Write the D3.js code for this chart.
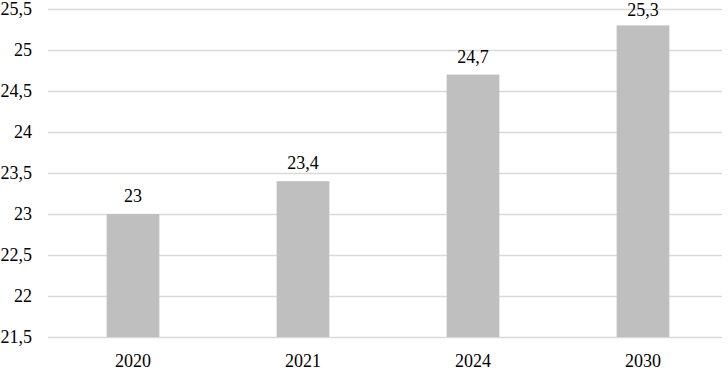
<!DOCTYPE html>
<html>
<head>
<meta charset="utf-8">
<script src="https://cdn.jsdelivr.net/npm/d3@7"></script>
<style>
  body { margin: 0; background: #fff; }
</style>
</head>
<body>
<svg id="chart" width="728" height="372"></svg>
<script>
const categories = ['2020', '2021', '2024', '2030'];
const values = [23, 23.4, 24.7, 25.3];
const yTicks = [21.5, 22, 22.5, 23, 23.5, 24, 24.5, 25, 25.5];

const svg = d3.select('#chart')
  .attr('font-family', "'Liberation Serif', 'Times New Roman', serif")
  .attr('font-size', 18);
const margin = { top: 9, right: 0, bottom: 35, left: 48 };
const width = 728, height = 372;
const fmt = (v) => String(v).replace('.', ',');

const x = d3.scaleBand()
  .domain(categories)
  .range([margin.left, width - margin.right])
  .padding(0);

const y = d3.scaleLinear()
  .domain([21.5, 25.5])
  .range([height - margin.bottom, margin.top]);

// gridlines
svg.append('g')
  .selectAll('line')
  .data(yTicks)
  .enter()
  .append('line')
  .attr('x1', margin.left)
  .attr('x2', width - margin.right - 6)
  .attr('y1', (d) => Math.round(y(d)) + 0.5)
  .attr('y2', (d) => Math.round(y(d)) + 0.5)
  .attr('stroke', '#d9d9d9')
  .attr('stroke-width', 1.5);

// y tick labels
svg.append('g')
  .selectAll('text')
  .data(yTicks)
  .enter()
  .append('text')
  .attr('x', 32)
  .attr('y', (d) => y(d))
  .attr('dy', '0.33em')
  .attr('text-anchor', 'end')
  .text(fmt);

// bars
const barW = x.bandwidth() * 0.31;
svg.append('g')
  .selectAll('rect')
  .data(values)
  .enter()
  .append('rect')
  .attr('x', (d, i) => x(categories[i]) + (x.bandwidth() - barW) / 2)
  .attr('y', (d) => y(d))
  .attr('width', barW)
  .attr('height', (d) => y(21.5) - y(d))
  .attr('fill', '#bfbfbf');

// value labels
svg.append('g')
  .selectAll('text')
  .data(values)
  .enter()
  .append('text')
  .attr('x', (d, i) => x(categories[i]) + x.bandwidth() / 2)
  .attr('y', (d) => Math.max(y(d) - 12, 16))
  .attr('text-anchor', 'middle')
  .text(fmt);

// x labels
svg.append('g')
  .selectAll('text')
  .data(categories)
  .enter()
  .append('text')
  .attr('x', (d) => x(d) + x.bandwidth() / 2)
  .attr('y', 367)
  .attr('text-anchor', 'middle')
  .text((d) => d);
</script>
</body>
</html>
